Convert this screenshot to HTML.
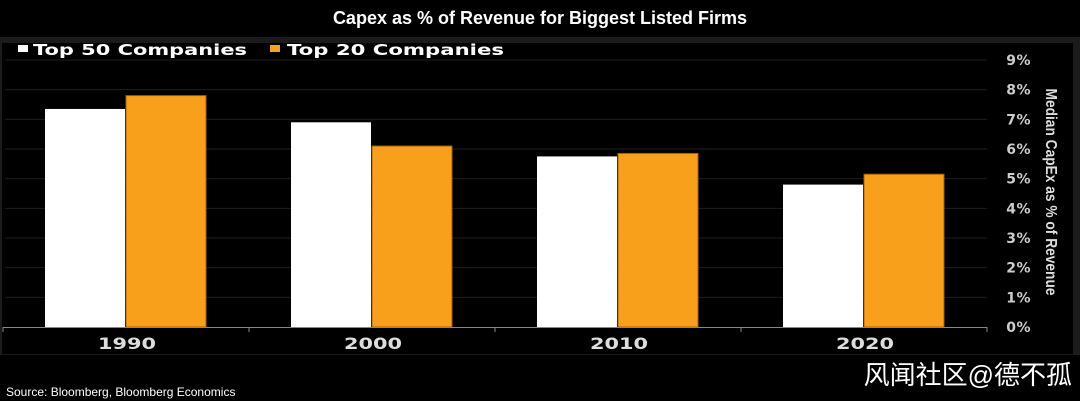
<!DOCTYPE html>
<html><head><meta charset="utf-8"><style>
html,body{margin:0;padding:0;background:#000;width:1080px;height:401px;overflow:hidden;}
svg{display:block}
</style></head><body>
<svg id="chart" width="1080" height="401" xmlns="http://www.w3.org/2000/svg">
<rect x="0" y="0" width="1080" height="401" fill="#000"/>
<rect x="0" y="37" width="1080" height="318" fill="#1b1b1b"/>
<rect x="2" y="43" width="1071" height="311" fill="#000"/>
<text x="540" y="24" text-anchor="middle" fill="#fff" font-family="Liberation Sans, sans-serif" font-weight="bold" font-size="18">Capex as % of Revenue for Biggest Listed Firms</text>
<g>
<g><rect x="18" y="45" width="10" height="7" fill="#fff"/><text x="33" y="55" fill="#fff" font-family="DejaVu Sans, sans-serif" font-weight="bold" font-size="15" textLength="214" lengthAdjust="spacingAndGlyphs">Top 50 Companies</text></g>
<g><rect x="270" y="45" width="10" height="7" fill="#f8a01c"/><text x="287" y="55" fill="#fff" font-family="DejaVu Sans, sans-serif" font-weight="bold" font-size="15" textLength="217" lengthAdjust="spacingAndGlyphs">Top 20 Companies</text></g>
</g>
<line x1="5" y1="60" x2="987" y2="60" stroke="#222"/>
<g id="grid"></g><g id="bars"></g><g id="axes"></g>
<text transform="translate(1046,192) rotate(90)" text-anchor="middle" fill="#ddd" font-family="Liberation Sans, sans-serif" font-weight="bold" font-size="16" textLength="207" lengthAdjust="spacingAndGlyphs">Median CapEx as % of Revenue</text>
<text x="6" y="396" fill="#fff" font-family="Liberation Sans, sans-serif" font-size="12">Source: Bloomberg, Bloomberg Economics</text>
<text x="1072" y="384" text-anchor="end" fill="#fff" font-family="Liberation Sans, 'Noto Sans CJK SC', sans-serif" font-size="26">风闻社区@德不孤</text>
</svg>
<script>
const categories = ["1990","2000","2010","2020"];
const top50 = [7.35, 6.9, 5.75, 4.8];
const top20 = [7.8, 6.1, 5.85, 5.15];
const yTicks = [0,1,2,3,4,5,6,7,8,9];
const yTickLabels = ["0%","1%","2%","3%","4%","5%","6%","7%","8%","9%"];

const NS="http://www.w3.org/2000/svg";
const x0=3, x1=987, y0=327, yTop=60, yMax=9;
const bandW=(x1-x0)/categories.length;
function yScale(v){return y0-(v/yMax)*(y0-yTop);}
function xBand(i){return x0+i*bandW;}
function mk(tag,attrs,parent){const e=document.createElementNS(NS,tag);for(const k in attrs)e.setAttribute(k,attrs[k]);parent.appendChild(e);return e;}
const grid=document.getElementById('grid'),bars=document.getElementById('bars'),axes=document.getElementById('axes');
yTicks.forEach((t,i)=>{
  if(t>0){const l=mk('line',{x1:5,x2:x1,y1:yScale(t),y2:yScale(t),stroke:'#1e1e1e'},grid);
  
  }
  const tx=mk('text',{x:1031,y:yScale(t)+5,'text-anchor':'end',fill:'#ccc','font-family':'DejaVu Sans, sans-serif','font-weight':'bold','font-size':'14','letter-spacing':'0.5'},axes);
  tx.textContent=yTickLabels[i];
  
  
});
const bw=80;
categories.forEach((c,i)=>{
  const cx=xBand(i)+bandW/2;
  const b1=mk('rect',{x:cx-bw-1,y:yScale(top50[i]),width:bw,height:y0-yScale(top50[i]),fill:'#fff'},bars);
  
  
  const b2=mk('rect',{x:cx,y:yScale(top20[i]),width:bw,height:y0-yScale(top20[i]),fill:'#f8a01c',stroke:'#a06010','stroke-width':1},bars);
  
  
  const tx=mk('text',{x:cx-28,y:349,fill:'#ddd','font-family':'DejaVu Sans, sans-serif','font-weight':'bold','font-size':'16',textLength:'58',lengthAdjust:'spacingAndGlyphs'},axes);
  tx.textContent=c;
  
  
});
const ax=mk('line',{x1:x0,x2:x1,y1:y0+0.5,y2:y0+0.5,stroke:'#888'},axes);


for(let i=0;i<=categories.length;i++){
  const tk=mk('line',{x1:xBand(i),x2:xBand(i),y1:y0,y2:y0+5,stroke:'#888'},axes);
  
  
}
</script>
</body></html>
